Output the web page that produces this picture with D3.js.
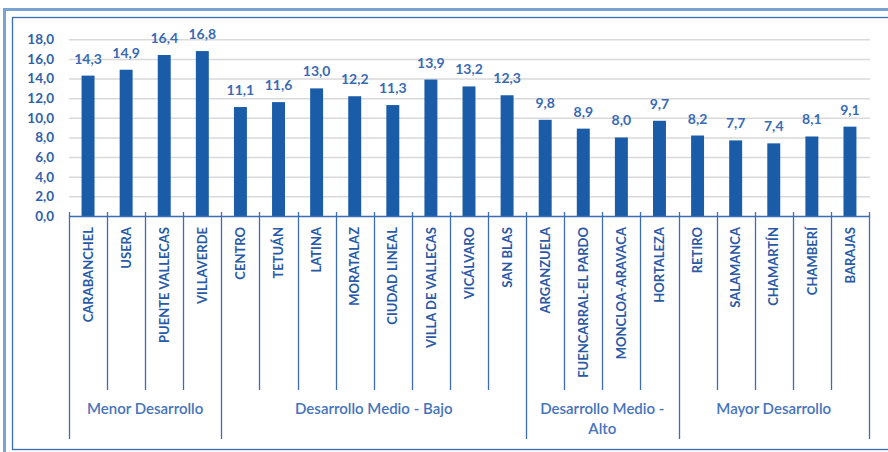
<!DOCTYPE html>
<html>
<head>
<meta charset="utf-8">
<script src="https://cdn.jsdelivr.net/npm/d3@7"></script>
<style>
  html, body { margin: 0; padding: 0; background: #ffffff; }
  svg { display: block; }
  text { font-family: Lato, "Open Sans", sans-serif; }
</style>
</head>
<body>
<svg id="chart" width="888" height="452"></svg>
<script>
const categories = ["CARABANCHEL", "USERA", "PUENTE VALLECAS", "VILLAVERDE", "CENTRO", "TETUÁN", "LATINA", "MORATALAZ", "CIUDAD LINEAL", "VILLA DE VALLECAS", "VICÁLVARO", "SAN BLAS", "ARGANZUELA", "FUENCARRAL-EL PARDO", "MONCLOA-ARAVACA", "HORTALEZA", "RETIRO", "SALAMANCA", "CHAMARTÍN", "CHAMBERÍ", "BARAJAS"];
const values = [14.3, 14.9, 16.4, 16.8, 11.1, 11.6, 13.0, 12.2, 11.3, 13.9, 13.2, 12.3, 9.8, 8.9, 8.0, 9.7, 8.2, 7.7, 7.4, 8.1, 9.1];
const groups = ["Menor Desarrollo", "Desarrollo Medio - Bajo", "Desarrollo Medio - Alto", "Mayor Desarrollo"];
const groupSizes = [4, 8, 4, 5];
const yTicks = [0, 2, 4, 6, 8, 10, 12, 14, 16, 18];

const svg = d3.select("#chart");
const fmt = d => d.toFixed(1).replace(".", ",");

// frame (double border)
svg.append("rect").attr("x", 4.5).attr("y", 9.5).attr("width", 900).attr("height", 460)
  .attr("fill", "none").attr("stroke", "#7aa2d3").attr("stroke-width", 3);
svg.append("rect").attr("x", 12.5).attr("y", 17.5).attr("width", 900).attr("height", 432)
  .attr("fill", "none").attr("stroke", "#3b6db3").attr("stroke-width", 1.3);

const x0 = 69, x1 = 869, yBase = 216, yTop = 39.3;
const x = d3.scaleBand().domain(categories).range([x0, x1]).paddingInner(0).paddingOuter(0);
const y = d3.scaleLinear().domain([0, 18]).range([yBase, yTop]);
const bw = x.bandwidth();

// gridlines
svg.append("g").attr("transform", `translate(${x0},0)`)
  .call(d3.axisLeft(y).tickValues(yTicks.slice(1)).tickSize(-(x1 - x0 + 1)).tickFormat(""))
  .call(g => g.select(".domain").remove())
  .call(g => g.selectAll("line").attr("stroke", "#d9d9d9").attr("stroke-width", 1.5));

// y axis labels
svg.append("g").attr("transform", `translate(${x0},0)`)
  .call(d3.axisLeft(y).tickValues(yTicks).tickSize(0).tickPadding(15).tickFormat(fmt))
  .call(g => g.select(".domain").remove())
  .call(g => g.selectAll("text").attr("fill", "#2f5fa8").style("font-size", "13.5px").style("font-weight", "bold").style("font-family", "Lato, sans-serif"));

// bars
const barW = bw * 0.34;
svg.append("g").selectAll("rect").data(categories).join("rect")
  .attr("x", (d) => x(d) + (bw - barW) / 2)
  .attr("y", (d, i) => y(values[i]))
  .attr("width", barW)
  .attr("height", (d, i) => y(0) - y(values[i]))
  .attr("fill", "#1a5ca8");

// value labels
svg.append("g").selectAll("text").data(categories).join("text")
  .attr("x", d => x(d) + bw / 2)
  .attr("y", (d, i) => y(values[i]) - 12)
  .attr("text-anchor", "middle")
  .attr("fill", "#3a6ab2")
  .style("font-size", "14px").style("font-weight", "bold")
  .text((d, i) => fmt(values[i]));

// x axis line
const lineColor = "#3c6db4";
svg.append("line").attr("x1", x0).attr("x2", x1).attr("y1", yBase + 0.5).attr("y2", yBase + 0.5)
  .attr("stroke", lineColor).attr("stroke-width", 1.3);

// group boundaries
const boundaries = [0];
groupSizes.forEach((s, i) => boundaries.push(boundaries[i] + s));
const bx = k => k < categories.length ? x(categories[k]) : x1;
const isBoundary = new Set(boundaries);

// category separators
svg.append("g").selectAll("line").data(d3.range(categories.length + 1)).join("line")
  .attr("x1", k => Math.round(bx(k)) + 0.5).attr("x2", k => Math.round(bx(k)) + 0.5)
  .attr("y1", 212)
  .attr("y2", k => isBoundary.has(k) ? 439 : 390)
  .attr("stroke", lineColor).attr("stroke-width", 1.3);

// category labels
svg.append("g").selectAll("text").data(categories).join("text")
  .attr("transform", d => `translate(${x(d) + bw / 2},227) rotate(-90)`)
  .attr("text-anchor", "end")
  .attr("dy", "0.36em")
  .attr("fill", "#2a5aa6")
  .style("font-size", "13px").style("font-weight", "bold")
  .text(d => d);

// group labels with wrapping
groups.forEach((gname, gi) => {
  const left = bx(boundaries[gi]), right = bx(boundaries[gi + 1]);
  const cx = (left + right) / 2;
  const maxW = right - left - 8;
  const t = svg.append("text").attr("x", cx).attr("y", 414).attr("text-anchor", "middle")
    .attr("fill", "#4574bb").style("font-size", "15px").style("font-weight", "600");
  const words = gname.split(" ");
  let line = [], lineNo = 0;
  let tspan = t.append("tspan").attr("x", cx).attr("dy", 0);
  words.forEach(w => {
    line.push(w);
    tspan.text(line.join(" "));
    if (tspan.node().getComputedTextLength() > maxW && line.length > 1) {
      line.pop();
      tspan.text(line.join(" "));
      line = [w];
      lineNo++;
      tspan = t.append("tspan").attr("x", cx).attr("dy", 20).text(w);
    }
  });
});
</script>
</body>
</html>
